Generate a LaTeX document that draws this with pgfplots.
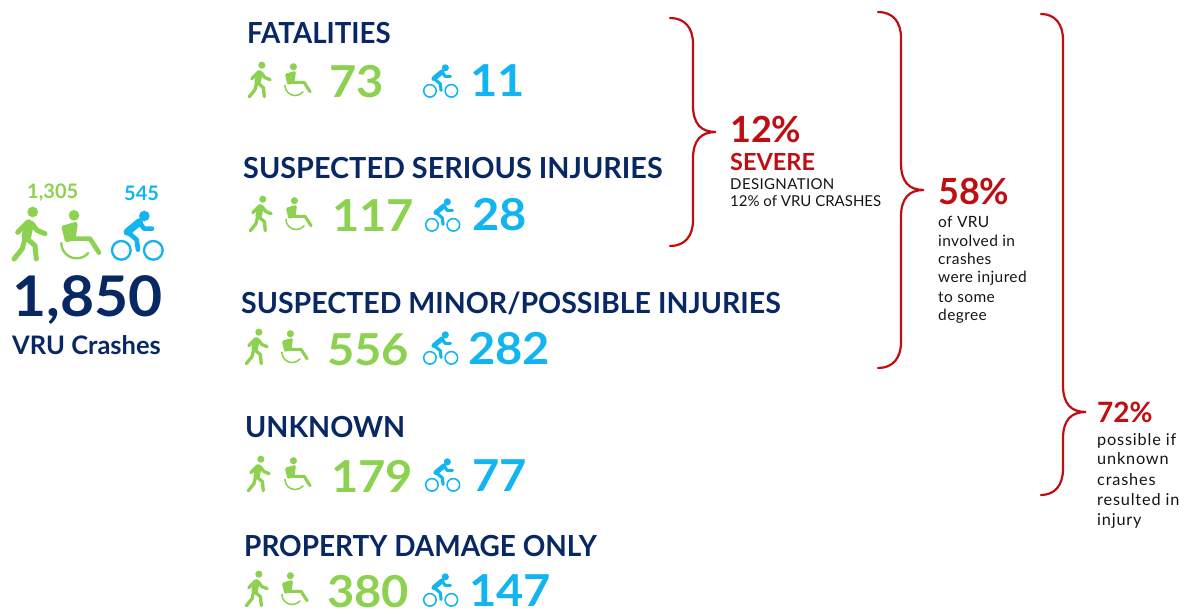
\documentclass[border=0pt]{standalone}
\usepackage{fontspec}
\usepackage{graphicx}
\usepackage{pgfplots}
\pgfplotsset{compat=1.18}
\setmainfont{Lato}
\newfontfamily\heavy{Lato}[UprightFont=* Bold]
\newfontfamily\bodya{Lato}[LetterSpace=2.5]
\newfontfamily\bodyb{Lato}[LetterSpace=5]
\definecolor{navy}{RGB}{8,40,100}
\definecolor{vgreen}{RGB}{141,209,80}
\definecolor{vblue}{RGB}{18,181,240}
\definecolor{vred}{RGB}{192,13,18}
\definecolor{ink}{RGB}{20,20,20}
% icons drawn from a 3x crop, anchor = bottom left of the icon
\newcommand\walker[3]{\pgfplotsextra{\pgfmathsetmacro\lw{#3*15/3}%
\begin{scope}[shift={(axis cs:#1,#2)},scale=#3/3,shift={(-35pt,272pt)},vgreen,line cap=round,line join=round,line width=\lw pt]
\fill (97pt,-125pt) circle (16pt);
\draw[line width=\lw*1.9 pt] (86pt,-162pt) -- (78pt,-200pt);
\draw (83pt,-155pt) -- (52pt,-186pt);
\draw (95pt,-160pt) -- (110pt,-180pt) -- (134pt,-190pt);
\draw (75pt,-200pt) -- (66pt,-235pt) -- (41pt,-266pt);
\draw (80pt,-205pt) -- (104pt,-226pt) -- (108pt,-266pt);
\end{scope}}}
\newcommand\chair[3]{\pgfplotsextra{\pgfmathsetmacro\lw{#3*14/3}%
\begin{scope}[shift={(axis cs:#1,#2)},scale=#3/3,shift={(-180pt,275pt)},vgreen,line cap=round,line join=round,line width=\lw pt]
\fill (222pt,-135pt) circle (16pt);
\filldraw (192pt,-172pt) -- (226pt,-162pt) -- (220pt,-203pt) -- (201pt,-208pt) -- cycle;
\draw (212pt,-205pt) -- (270pt,-205pt) -- (297pt,-247pt);
\draw[line width=\lw*0.5 pt] (184pt,-218pt) arc (180:320:46pt);
\end{scope}}}
\newcommand\bike[3]{\pgfplotsextra{\pgfmathsetmacro\lw{#3*14/3}%
\begin{scope}[shift={(axis cs:#1,#2)},scale=#3/3,shift={(-333pt,272pt)},vblue,line cap=round,line join=round,line width=\lw pt]
\fill (433pt,-137pt) circle (16pt);
\draw[line width=\lw*1.6 pt] (418pt,-155pt) -- (382pt,-185pt);
\draw (382pt,-185pt) -- (410pt,-208pt) -- (414pt,-238pt);
\draw (420pt,-158pt) -- (432pt,-175pt) -- (456pt,-175pt);
\draw[line width=\lw*0.5 pt] (364pt,-240pt) circle (28pt);
\draw[line width=\lw*0.5 pt] (460pt,-240pt) circle (28pt);
\end{scope}}}
\newcommand\T[5]{\node[anchor=base west,inner sep=0pt,text=#4] at (axis cs:#1,#2) {\fontsize{#3}{#3}\selectfont #5};}
\newcommand\num[3]{\T{#1}{#2}{44}{#3}}
\newcommand\row[9]{%
\T{#1}{#2}{29}{navy}{\heavy #3}
\walker{#4}{#5}{0.67}
\chair{#6}{#5}{0.67}
\T{#7}{#5}{44}{vgreen}{\heavy\scalebox{1.07}[1]{#8}}
\bike{#9}{#5}{0.67}}
% x0, ytop, xspine, ytip, xtip, ybottom
\newcommand\curly[6]{\draw[vred,line width=2.2pt,line cap=round] (axis cs:#1,#2) .. controls (axis cs:#3-8,#2) and (axis cs:#3,#2+10) .. (axis cs:#3,#2+26) -- (axis cs:#3,#4-27) .. controls (axis cs:#3,#4-8) and (axis cs:#3+8,#4) .. (axis cs:#5,#4) .. controls (axis cs:#3+8,#4) and (axis cs:#3,#4+8) .. (axis cs:#3,#4+27) -- (axis cs:#3,#6-26) .. controls (axis cs:#3,#6-10) and (axis cs:#3-8,#6) .. (axis cs:#1,#6);}
\begin{document}
\begin{tikzpicture}
\useasboundingbox (0,0) rectangle (1180pt,609pt);
\begin{axis}[
    at={(0,0)},anchor=south west,
    scale only axis,width=1180pt,height=609pt,
    xmin=0,xmax=1180,ymin=0,ymax=609,y dir=reverse,
    hide axis,clip=false]
\addplot[draw=none] coordinates {(0,0) (1180,609)};
% left summary
\T{27}{199}{20}{vgreen}{\heavy 1,305}
\T{124}{201}{20}{vblue}{\heavy 545}
\walker{12}{261}{1}
\chair{60}{262}{1}
\bike{111}{261}{1}
\T{12}{317}{56}{navy}{\heavy\scalebox{1.05}[1]{1,850}}
\T{12}{355}{25.5}{navy}{\heavy VRU Crashes}
% rows
\row{247}{44}{\scalebox{.953}[1]{FATALITIES}}{248}{98}{284}{329}{73}{423}
\num{470}{97}{vblue}{\heavy\scalebox{1.07}[1]{11}}
\row{243}{179}{\scalebox{.993}[1]{SUSPECTED SERIOUS INJURIES}}{249}{232}{285}{332}{117}{425}
\num{472}{231}{vblue}{\heavy\scalebox{1.07}[1]{28}}
\row{241}{314}{\scalebox{.984}[1]{SUSPECTED MINOR/POSSIBLE INJURIES}}{245}{365}{281}{327}{556}{423}
\num{468}{364}{vblue}{\heavy\scalebox{1.07}[1]{282}}
\row{245}{437}{\scalebox{.988}[1]{UNKNOWN}}{247}{492}{284}{331}{179}{425}
\num{472}{491}{vblue}{\heavy\scalebox{1.07}[1]{77}}
\row{244}{556}{\scalebox{.964}[1]{PROPERTY DAMAGE ONLY}}{245}{607}{281}{327}{380}{423}
\num{469}{606}{vblue}{\heavy\scalebox{1.07}[1]{147}}
% braces
\curly{670}{18}{693}{132}{716}{246}
\curly{878}{12}{901}{190}{924}{368}
\curly{1041}{14}{1063}{412}{1086}{495}
% callouts
\T{730}{143}{36}{vred}{\heavy 12\%}
\T{730}{171}{23.5}{vred}{\heavy SEVERE}
\T{730}{190}{15}{ink}{\bodya DESIGNATION}
\T{730}{207}{15}{ink}{12\% of VRU CRASHES}
\T{938}{205}{36}{vred}{\heavy 58\%}
\T{938}{228}{15.5}{ink}{\bodya of VRU}
\T{938}{247}{15.5}{ink}{\bodya involved in}
\T{938}{265}{15.5}{ink}{\bodya crashes}
\T{938}{283}{15.5}{ink}{\bodya were injured}
\T{938}{303}{15.5}{ink}{\bodya to some}
\T{938}{321}{15.5}{ink}{\bodya degree}
\T{1097}{422}{28}{vred}{\heavy 72\%}
\T{1097}{445}{16.3}{ink}{\bodyb possible if}
\T{1097}{464}{16.3}{ink}{\bodyb unknown}
\T{1097}{485}{16.3}{ink}{\bodyb crashes}
\T{1097}{505}{16.3}{ink}{\bodyb resulted in}
\T{1097}{525}{16.3}{ink}{\bodyb injury}
\end{axis}
\end{tikzpicture}
\end{document}
